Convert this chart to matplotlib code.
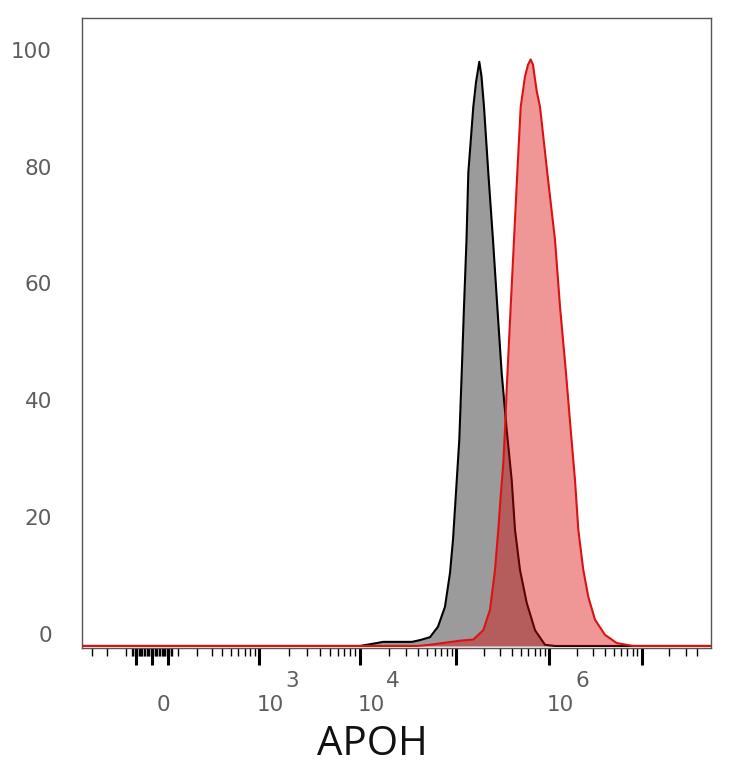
import numpy as np
import matplotlib
matplotlib.use("Agg")
import matplotlib.pyplot as plt

# ---------------- data ----------------
# isotype / control (grey) histogram: intensity, % of max
ctrl_x = [-400, 10000, 15030, 17360, 34800, 42170, 53580, 64940, 76740, 86600,
          93070, 100000, 108500, 115180, 121900, 129700, 135640, 153500, 164100,
          178060, 188000, 200000, 222500, 249900, 277970, 309960, 350960, 397100,
          430900, 487700, 575700, 707200, 905800, 1161000, 60000000]
ctrl_y = [0, 0, 0.5, 0.7, 0.7, 1.0, 1.5, 3.3, 6.7, 12.5,
          18.2, 26.3, 35.3, 46.7, 58.1, 69.5, 81.0, 92.3, 96.5,
          100.0, 97.5, 92.3, 81.0, 69.5, 58.1, 46.7, 37.0, 28.4,
          19.9, 13.0, 7.4, 2.7, 0.2, 0, 0]

# APOH stained (red) histogram
apoh_x = [-400, 39300, 53580, 80600, 110400, 153500, 196600, 232100, 262600, 285000,
          302400, 322600, 336400, 350960, 387400, 420400, 456200, 496300, 552100,
          594600, 635700, 673000, 707200, 737500, 800300, 958700, 1161000, 1315000,
          1527000, 1716000, 1910000, 2074000, 2349000, 2660000, 3143000, 4031000,
          5395000, 8092000, 60000000]
apoh_y = [0, 0, 0.2, 0.6, 0.9, 1.1, 2.7, 6.2, 13.0, 19.9,
          25.6, 31.3, 37.0, 44.0, 58.1, 69.5, 81.0, 92.3, 97.5,
          99.5, 100.4, 99.5, 97.0, 95.0, 92.3, 81.0, 69.5, 58.1,
          46.7, 37.0, 28.4, 19.9, 13.0, 8.4, 4.5, 1.9,
          0.5, 0, 0]

y_ticks = [0, 20, 40, 60, 80, 100]
x_major = [-60, 0, 60, 1e3, 1e4, 1e5, 1e6, 1e7]
x_labels = {0: ("0", None), 1e3: ("10", "3"), 1e4: ("10", "4"), 1e6: ("10", "6")}
x_label = "APOH"

# ---------------- biexponential-like scale ----------------
C = 150.0
anchor_v = np.array([-1000, 0, 1e3, 1e4, 1e5, 1e6, 1e7, 1e8])
anchor_p = np.array([45, 152, 259, 360, 456, 549, 641.5, 734])
G = np.arcsinh(anchor_v / C)


def fwd(x):
    x = np.asarray(x, dtype=float)
    return np.interp(np.arcsinh(x / C), G, anchor_p)


def inv(p):
    p = np.asarray(p, dtype=float)
    return C * np.sinh(np.interp(p, anchor_p, G))


W, H = 734, 768
fig = plt.figure(figsize=(W / 100, H / 100), dpi=100)
ax = fig.add_axes([82 / W, 1 - 648 / H, (711 - 82) / W, (648 - 18) / H])
ax.set_xscale("function", functions=(fwd, inv))
ax.set_xlim(float(inv(82)), float(inv(711)))
ax.set_ylim(-0.35, 107.5)

# histograms
ax.fill_between(ctrl_x, ctrl_y, 0, color="#9b9b9b", linewidth=0, zorder=2)
ax.plot(ctrl_x, ctrl_y, color="black", linewidth=1.5, zorder=3)
ax.fill_between(apoh_x, apoh_y, 0, color=(219 / 255, 5 / 255, 5 / 255), alpha=0.42,
                linewidth=0, zorder=4)
ax.plot(apoh_x, apoh_y, color="#dd1111", linewidth=1.5, zorder=5)

# frame
for s in ax.spines.values():
    s.set_color("#555555")
    s.set_linewidth(1.0)

# x ticks
minor = [-300, -200, -100] + [v for v in range(-75, 76, 5) if v not in (-60, 0, 60)]
minor += list(range(100, 1000, 100))
for k in range(3, 7):
    minor += [m * 10 ** k for m in range(2, 10)]
minor += [2e7, 3e7, 4e7]
ax.set_xticks(x_major)
ax.set_xticks(minor, minor=True)
ax.set_xticklabels([])
ax.set_xticklabels([], minor=True)
ax.tick_params(axis="x", which="major", direction="out", length=12, width=2.2,
               color="black")
ax.tick_params(axis="x", which="minor", direction="out", length=6, width=1.0,
               color="black")

# y ticks (no marks)
ax.set_yticks(y_ticks)
ax.set_yticklabels([])
ax.tick_params(axis="y", length=0)
ax.tick_params(top=False, right=False)

lab_color = "#5e5e5e"
for v in y_ticks:
    ax.annotate(str(v), xy=(0, v), xycoords=("axes fraction", "data"),
                xytext=(-30, 10), textcoords="offset pixels", ha="right",
                va="center", fontsize=15.5, color=lab_color,
                family="DejaVu Sans", annotation_clip=False)

for v, (base, exp) in x_labels.items():
    ax.annotate(base, xy=(v, 0), xycoords=("data", "axes fraction"),
                xytext=(11, -57), textcoords="offset pixels", ha="center",
                va="center", fontsize=15.5, color=lab_color,
                family="DejaVu Sans", annotation_clip=False)
    if exp:
        ax.annotate(exp, xy=(v, 0), xycoords=("data", "axes fraction"),
                    xytext=(33, -33), textcoords="offset pixels", ha="center",
                    va="center", fontsize=15.5, color=lab_color,
                    family="DejaVu Sans", annotation_clip=False)

fig.text(372 / W, 1 - 745 / H, x_label, ha="center", va="center", fontsize=29,
         color="#111111", family="Open Sans")

fig.savefig("out.png", dpi=100)
